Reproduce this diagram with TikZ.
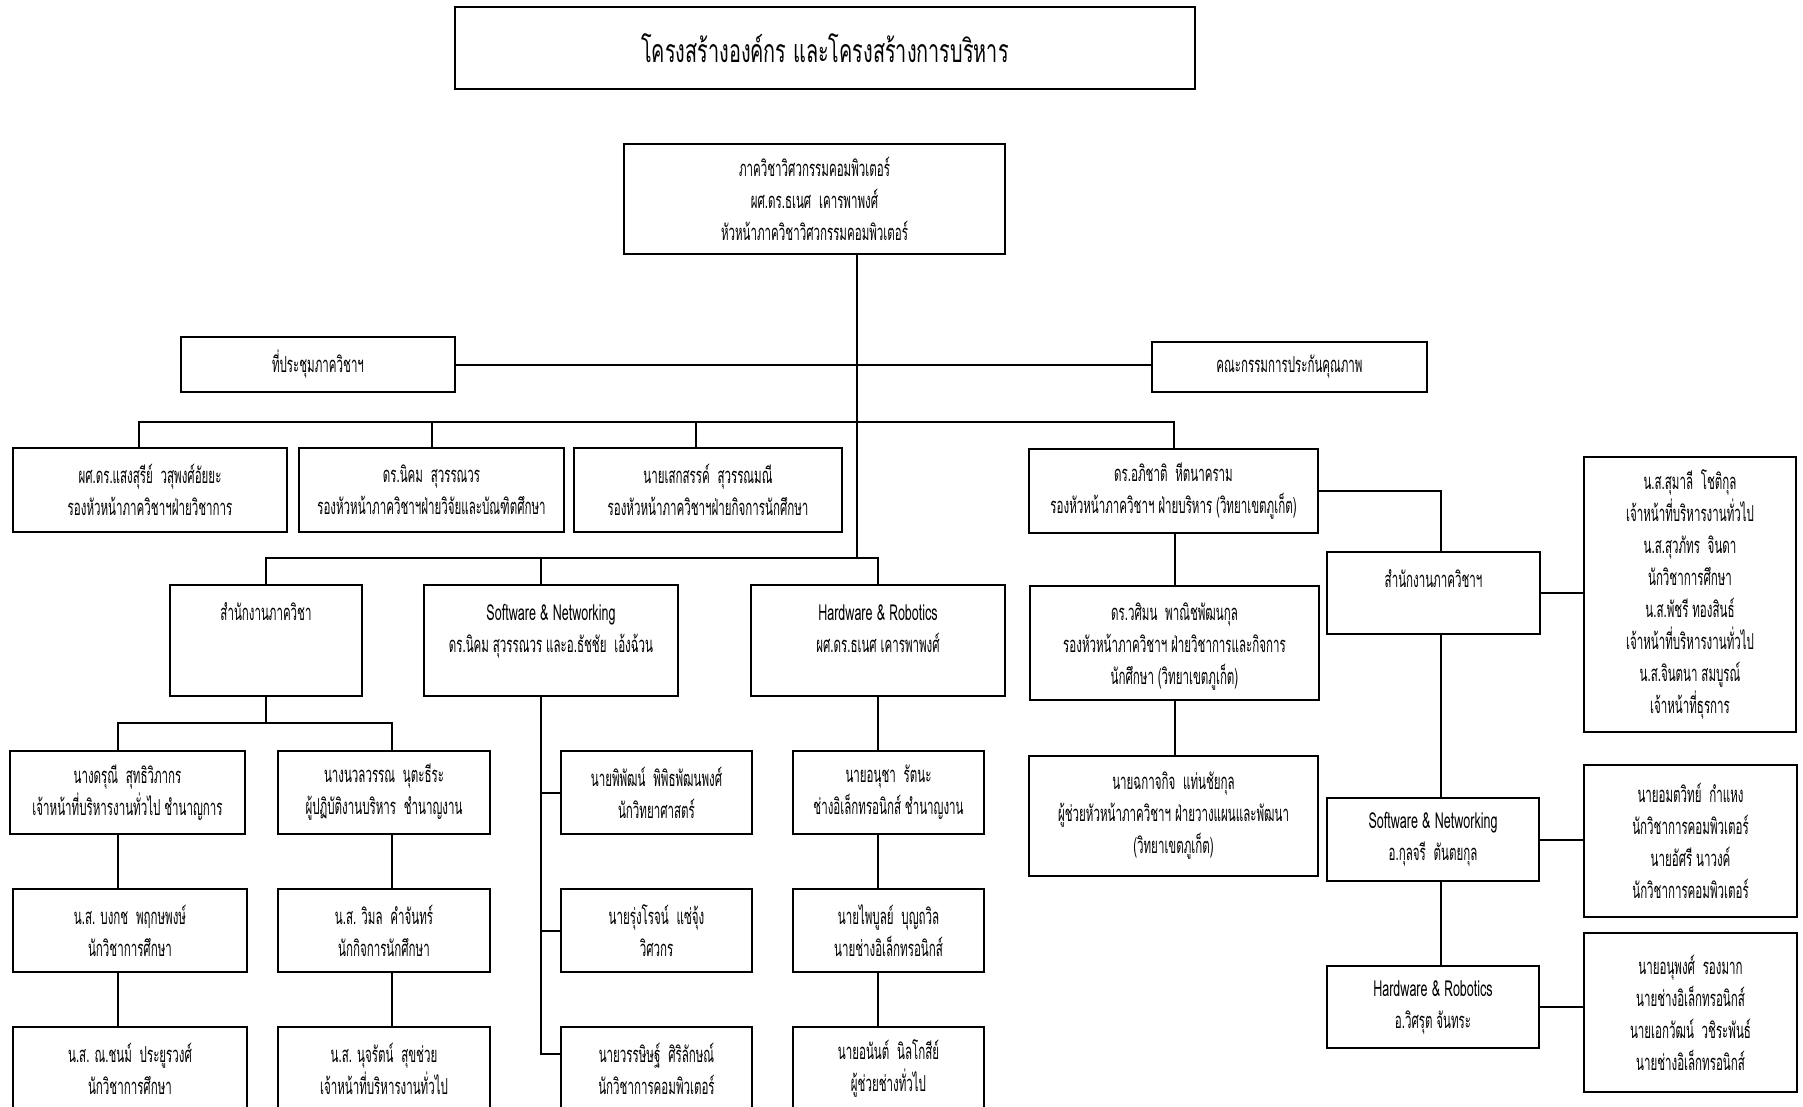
\documentclass[tikz,border=0pt]{standalone}
\usepackage{fontspec}
\setmainfont[Script=Thai,FakeStretch=0.525]{Loma}
\newfontfamily\titlefont[Script=Thai,FakeStretch=0.62]{Loma}
\newfontfamily\latinfont[FakeStretch=0.57]{Loma}

\tikzset{
  box/.style={draw, line width=1.1pt, inner sep=0pt, align=center, font=\fontsize{11}{16}\selectfont},
  wh/.style 2 args={minimum width=#1*0.5pt, minimum height=#2*0.5pt},
  link/.style={line width=1pt}
}

\begin{document}
\begin{tikzpicture}[x=0.5pt,y=-0.5pt]

\path[use as bounding box, fill=white] (0,0) rectangle (1803,1107);

\node[box, wh={740}{82}, line width=1.3pt, font=\titlefont\fontsize{16}{20}\selectfont] (title) at (825,48) {โครงสร้างองค์กร และโครงสร้างการบริหาร};

\node[box, wh={381}{110}] (head) at (814.5,199) {ภาควิชาวิศวกรรมคอมพิวเตอร์\\ ผศ.ดร.ธเนศ~~เคารพาพงศ์\\ หัวหน้าภาควิชาวิศวกรรมคอมพิวเตอร์};

\node[box, wh={274}{55}] (meet) at (318,364.5) {ที่ประชุมภาควิชาฯ};
\node[box, wh={275}{50}] (qa) at (1289.5,367) {คณะกรรมการประกันคุณภาพ};

\node[box, wh={274}{84}] (vAcad) at (150,490) {ผศ.ดร.แสงสุรีย์~~วสุพงศ์อัยยะ\\ รองหัวหน้าภาควิชาฯฝ่ายวิชาการ};
\node[box, wh={265}{84}] (vRes) at (431.5,490) {ดร.นิคม~~สุวรรณวร\\ รองหัวหน้าภาควิชาฯฝ่ายวิจัยและบัณฑิตศึกษา};
\node[box, wh={268}{84}] (vStu) at (708,490) {นายเสกสรรค์~~สุวรรณมณี\\ รองหัวหน้าภาควิชาฯฝ่ายกิจการนักศึกษา};
\node[box, wh={289}{84}] (vAdm) at (1173.5,491) {ดร.อภิชาติ~~หีตนาคราม\\ รองหัวหน้าภาควิชาฯ ฝ่ายบริหาร (วิทยาเขตภูเก็ต)};

\node[box, wh={192}{111}] (office) at (266,640.5) {\rule{0pt}{17pt}สำนักงานภาควิชา\\ \strut\\ \strut};
\node[box, wh={254}{111}] (swnet) at (551,640.5) {\rule{0pt}{17pt}{\latinfont Software \& Networking}\\ ดร.นิคม สุวรรณวร และอ.ธัชชัย~~เอ้งฉ้วน\\ \strut};
\node[box, wh={254}{111}] (hwrob) at (878,640.5) {\rule{0pt}{17pt}{\latinfont Hardware \& Robotics}\\ ผศ.ดร.ธเนศ เคารพาพงศ์\\ \strut};

\node[box, wh={235}{83}] (clerkA) at (127.5,792.5) {นางดรุณี~~สุทธิวิภากร\\ เจ้าหน้าที่บริหารงานทั่วไป ชำนาญการ};
\node[box, wh={212}{83}] (clerkB) at (384,792.5) {นางนวลวรรณ~~นุตะธีระ\\ ผู้ปฏิบัติงานบริหาร~~ชำนาญงาน};
\node[box, wh={234}{83}] (eduA) at (130,930.5) {น.ส. บงกช~~พฤกษพงษ์\\ นักวิชาการศึกษา};
\node[box, wh={212}{83}] (stuB) at (384,930.5) {น.ส. วิมล~~คำจันทร์\\ นักกิจการนักศึกษา};
\node[box, wh={234}{83}] (eduC) at (130,1068.5) {น.ส. ณ.ชนม์~~ประยูรวงศ์\\ นักวิชาการศึกษา};
\node[box, wh={212}{83}] (admD) at (384,1068.5) {น.ส. นุจรัตน์~~สุขช่วย\\ เจ้าหน้าที่บริหารงานทั่วไป};

\node[box, wh={191}{83}] (swA) at (656.5,792.5) {นายพิพัฒน์~~พิพิธพัฒนพงศ์\\ นักวิทยาศาสตร์};
\node[box, wh={191}{83}] (swB) at (656.5,930.5) {นายรุ่งโรจน์~~แซ่จุ้ง\\ วิศวกร};
\node[box, wh={191}{83}] (swC) at (656.5,1068.5) {นายวรรษิษฐ์~~ศิริลักษณ์\\ นักวิชาการคอมพิวเตอร์};

\node[box, wh={191}{83}] (hwA) at (888.5,792.5) {นายอนุชา~~รัตนะ\\ ช่างอิเล็กทรอนิกส์ ชำนาญงาน};
\node[box, wh={191}{83}] (hwB) at (888.5,930.5) {นายไพบูลย์~~บุญถวิล\\ นายช่างอิเล็กทรอนิกส์};
\node[box, wh={191}{83}] (hwC) at (888.5,1068.5) {นายอนันต์~~นิลโกสีย์\\ ผู้ช่วยช่างทั่วไป};

\node[box, wh={289}{114}] (pkAcad) at (1174.5,643) {\rule{0pt}{12pt}ดร.วศิมน~~พาณิชพัฒนกุล\\ รองหัวหน้าภาควิชาฯ ฝ่ายวิชาการและกิจการ\\ นักศึกษา (วิทยาเขตภูเก็ต)};
\node[box, wh={289}{120}] (pkPlan) at (1173.5,816) {นายฉกาจกิจ~~แท่นชัยกุล\\ ผู้ช่วยหัวหน้าภาควิชาฯ ฝ่ายวางแผนและพัฒนา\\ (วิทยาเขตภูเก็ต)};

\node[box, wh={213}{82}] (pkOffice) at (1433.5,593) {\rule{0pt}{15pt}สำนักงานภาควิชาฯ\\ \strut};
\node[box, wh={212}{275}] (pkStaff) at (1690,594.5) {น.ส.สุมาลี~~โชติกุล\\ เจ้าหน้าที่บริหารงานทั่วไป\\ น.ส.สุวภัทร~~จินดา\\ นักวิชาการศึกษา\\ น.ส.พัชรี ทองสินธ์\\ เจ้าหน้าที่บริหารงานทั่วไป\\ น.ส.จินตนา สมบูรณ์\\ เจ้าหน้าที่ธุรการ};
\node[box, wh={212}{83}] (pkSw) at (1433,839.5) {{\latinfont Software \& Networking}\\ อ.กุลจรี~~ตันตยกุล};
\node[box, wh={213}{152}] (pkSwStaff) at (1690.5,841) {นายอมตวิทย์~~กำแหง\\ นักวิชาการคอมพิวเตอร์\\ นายอัศรี นาวงค์\\ นักวิชาการคอมพิวเตอร์};
\node[box, wh={212}{82}] (pkHw) at (1433,1007) {{\latinfont Hardware \& Robotics}\\ อ.วิศรุต จันทระ};
\node[box, wh={213}{159}] (pkHwStaff) at (1690.5,1012.5) {นายอนุพงศ์~~รองมาก\\ นายช่างอิเล็กทรอนิกส์\\ นายเอกวัฒน์~~วชิระพันธ์\\ นายช่างอิเล็กทรอนิกส์};

\coordinate (spine) at (857,558);
\coordinate (bar3) at (0,422);
\coordinate (bar5) at (0,723);
\coordinate (colA) at (118,0);
\coordinate (colB) at (392,0);
\coordinate (colS) at (541,0);
\coordinate (colH) at (878,0);
\coordinate (colW) at (1175,0);
\coordinate (colY) at (1441,0);

\draw[link] (head.south -| spine) -- (spine);
\draw[link] (meet.east) -- (meet.east -| qa.west);
\draw[link] ([xshift=-5.5pt]vAcad.north) |- (bar3 -| vAdm.north) -- (vAdm.north);
\draw[link] (vRes.north) -- (vRes.north |- bar3);
\draw[link] ([xshift=-6pt]vStu.north) -- ([xshift=-6pt]vStu.north |- bar3);

\draw[link] (office.north) |- (spine) -| (hwrob.north);
\draw[link] (swnet.north -| colS) -- (spine -| colS);

\draw[link] (office.south) -- (office.south |- bar5);
\draw[link] (clerkA.north -| colA) |- (bar5 -| colB) -- (clerkB.north -| colB);
\draw[link] (clerkA.south -| colA) -- (eduA.north -| colA);
\draw[link] (eduA.south -| colA) -- (eduC.north -| colA);
\draw[link] (clerkB.south -| colB) -- (stuB.north -| colB);
\draw[link] (stuB.south -| colB) -- (admD.north -| colB);

\draw[link] (swnet.south -| colS) |- ([yshift=7.5pt]swC.west);
\draw[link] (colS |- swA.west) -- (swA.west);
\draw[link] (colS |- swB.west) -- (swB.west);

\draw[link] (hwrob.south -| colH) -- (hwA.north -| colH);
\draw[link] (hwA.south -| colH) -- (hwB.north -| colH);
\draw[link] (hwB.south -| colH) -- (hwC.north -| colH);

\draw[link] (vAdm.south -| colW) -- (pkAcad.north -| colW);
\draw[link] (pkAcad.south -| colW) -- (pkPlan.north -| colW);
\draw[link] (vAdm.east) -| (pkOffice.north -| colY);
\draw[link] (pkOffice.east) -- (pkOffice.east -| pkStaff.west);
\draw[link] (pkOffice.south -| colY) -- (pkSw.north -| colY);
\draw[link] (pkSw.south -| colY) -- (pkHw.north -| colY);
\draw[link] (pkSw.east) -- (pkSw.east -| pkSwStaff.west);
\draw[link] (pkHw.east) -- (pkHw.east -| pkHwStaff.west);

\end{tikzpicture}
\end{document}
